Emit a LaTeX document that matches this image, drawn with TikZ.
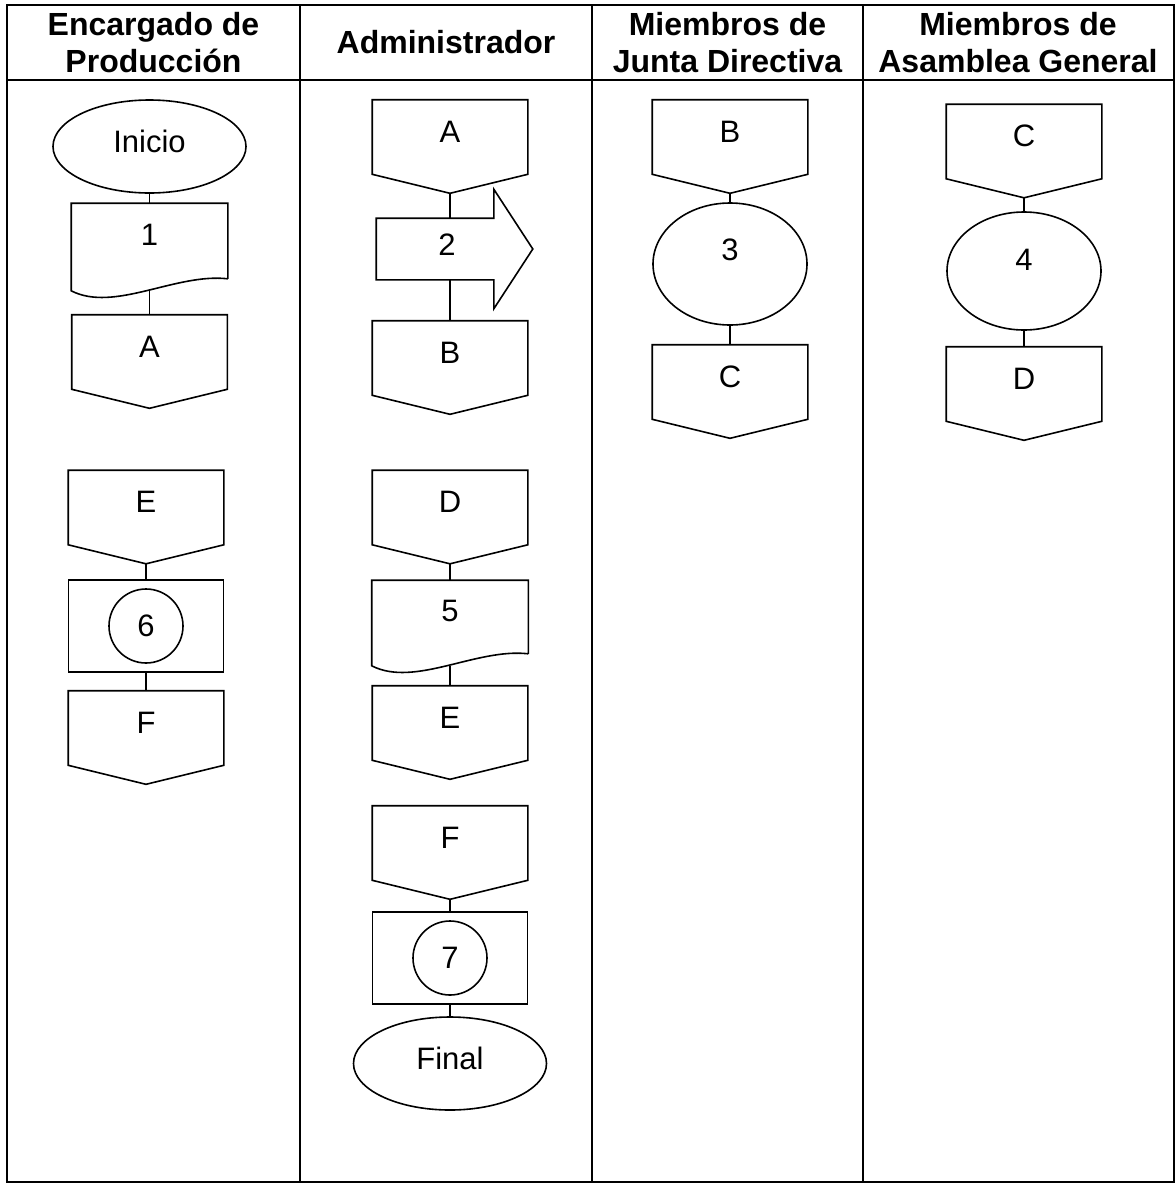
\documentclass[tikz,border=0pt]{standalone}
\usepackage{fontspec}
\setmainfont{Liberation Sans}
\usetikzlibrary{shapes.geometric}

\begin{document}
\begin{tikzpicture}[x=1pt,y=-1pt,line width=1.6pt,
        font=\fontsize{31}{36}\selectfont,
        titulo/.style={font=\fontsize{32}{37}\selectfont\bfseries,align=center},
        conector/.style={rectangle,minimum width=154pt,minimum height=92pt,inner sep=0pt,text height=22pt,text depth=30.5pt},
        documento/.style={rectangle,minimum width=155pt,minimum height=86pt,inner sep=0pt,text height=22pt,text depth=24.5pt},
        flecha/.style={rectangle,minimum width=155pt,minimum height=60pt,inner sep=0pt,text height=22pt,text depth=8.5pt},
        ovalo/.style={ellipse,draw,minimum width=193pt,minimum height=93pt,inner sep=0pt,text height=22pt,text depth=10.5pt},
        bola/.style={ellipse,draw,minimum width=154pt,minimum height=122pt,inner sep=0pt,text height=22pt,text depth=28.5pt},
        caja/.style={rectangle,draw,minimum width=155pt,minimum height=92pt},
        circulo/.style={circle,draw,minimum size=74pt,inner sep=0pt}]

    \useasboundingbox (0,0) rectangle (1175,1184);

    % tabla
    \draw[line width=1.8pt] (7,5) rectangle (1174,1182);
    \draw (7,80) -- (1174,80);
    \foreach \x in {300,592,863}
        \draw (\x,5) -- (\x,1182);

    \node[titulo] (t1) at (153.5,42.5) {Encargado de\\Producción};
    \node[titulo] (t2) at (446,42) {Administrador};
    \node[titulo] (t3) at (727.5,42.5) {Miembros de\\Junta Directiva};
    \node[titulo] (t4) at (1018,42.5) {Miembros de\\Asamblea General};

    % Encargado de Produccion
    \node[ovalo] (ini) at (149.5,146.5) {Inicio};
    \node[documento] (d1) at (149.5,247) {1};
    \node[conector] (a1) at (149.5,361.5) {A};
    \node[conector] (e1) at (146,517) {E};
    \node[caja] (r6) at (146,626) {};
    \node[circulo] (c6) at (r6) {6};
    \node[conector] (f1) at (146,737.5) {F};

    % Administrador
    \node[conector] (a2) at (450,146.5) {A};
    \node[flecha] (n2) at (454.5,249) {\hspace*{-15pt}2};
    \node[conector] (b2) at (450,367.5) {B};
    \node[conector] (d2) at (450,517) {D};
    \node[documento,minimum height=84pt] (d5) at (450,623) {5};
    \node[conector] (e2) at (450,732.5) {E};
    \node[conector] (f2) at (450,852.5) {F};
    \node[caja] (r7) at (450,958) {};
    \node[circulo] (c7) at (r7) {7};
    \node[ovalo] (fin) at (450,1063.5) {Final};

    % Junta Directiva
    \node[conector] (b3) at (730,146.5) {B};
    \node[bola] (e3) at (730,264) {3};
    \node[conector] (c3) at (730,391.5) {C};

    % Asamblea General
    \node[conector] (c4) at (1024,151) {C};
    \node[bola,minimum height=118pt,text depth=22.5pt] (e4) at (1024,271) {4};
    \node[conector] (d4) at (1024,393.5) {D};

    % formas
    \foreach \n in {a1,e1,f1,a2,b2,d2,e2,f2,b3,c3,c4,d4}
        \draw (\n.north west) -- (\n.north east) -- ([yshift=19pt]\n.south east)
            -- (\n.south) -- ([yshift=19pt]\n.south west) -- cycle;
    \foreach \n in {d1,d5}
        \draw ([yshift=12pt]\n.south east) -- (\n.north east) -- (\n.north west) -- (\n.south west)
            .. controls ([shift={(43pt,-22pt)}]\n.south west) and ([shift={(-52pt,18pt)}]\n.south east)
            .. ([yshift=12pt]\n.south east);
    \draw (n2.north west) -- ([xshift=-39pt]n2.north east)
        -- ([shift={(-39pt,29pt)}]n2.north east) -- (n2.east)
        -- ([shift={(-39pt,-29pt)}]n2.south east) -- ([xshift=-39pt]n2.south east)
        -- (n2.south west) -- cycle;

    \path
    (ini) edge (d1)
    (d1) edge (a1)
    (e1) edge (r6)
    (r6) edge (f1)
    (a2) edge (a2 |- n2.north)
    (b2 |- n2.south) edge (b2)
    (d2) edge (d5)
    (d5) edge (e2)
    (f2) edge (r7)
    (r7) edge (fin)
    (b3) edge (e3)
    (e3) edge (c3)
    (c4) edge (e4)
    (e4) edge (d4);

\end{tikzpicture}
\end{document}
